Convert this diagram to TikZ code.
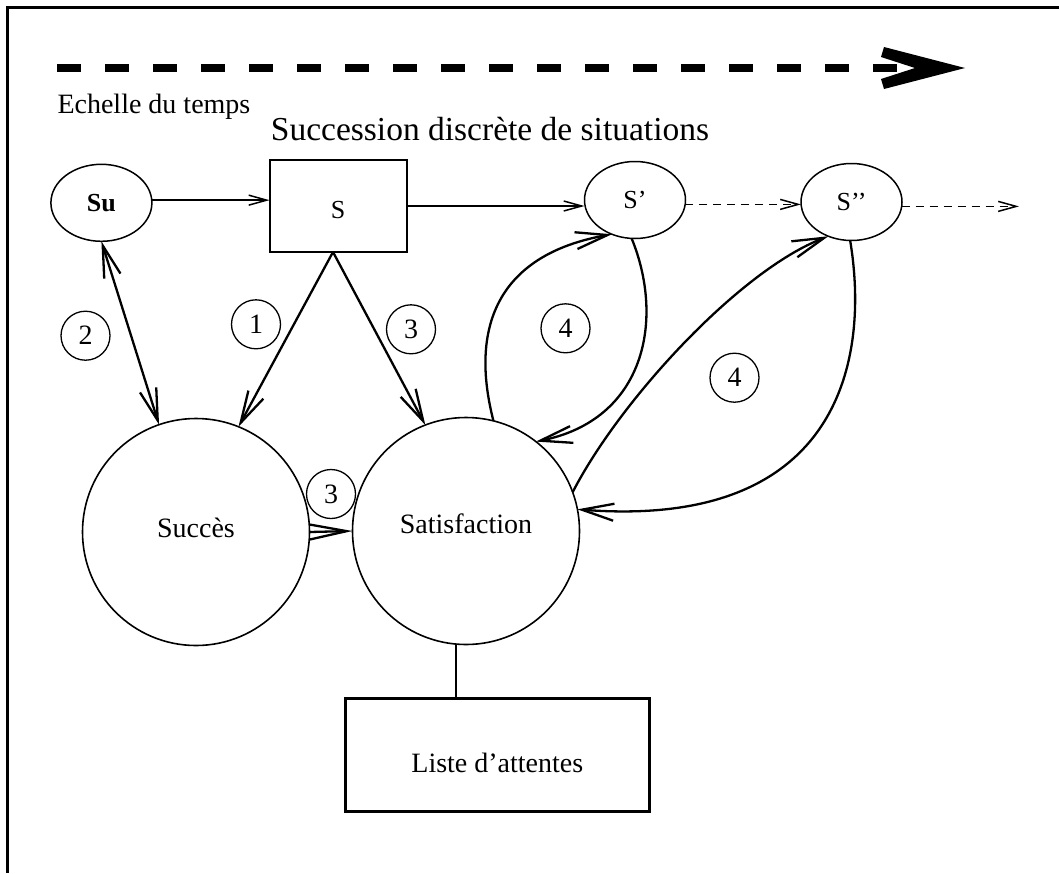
\documentclass[tikz,border=0pt]{standalone}
\usepackage{fontspec}
\setmainfont{Liberation Serif}
\usetikzlibrary{arrows.meta,shapes.geometric}

\begin{document}
\begin{tikzpicture}[x=1pt,y=-1pt,
  every node/.style={inner sep=0pt,outer sep=0pt},
  situ/.style={draw,ellipse,line width=1.5pt,minimum width=101pt,minimum height=77pt,
    font=\fontsize{26}{28}\selectfont},
  bigcircle/.style={draw,circle,line width=1.6pt,minimum size=227pt,
    font=\fontsize{28}{30}\selectfont},
  numcircle/.style={draw,circle,line width=1.3pt,minimum size=49pt,
    font=\fontsize{28}{30}\selectfont},
  thinarrow/.style={line width=1.5pt,-{Straight Barb[length=18pt,width=10pt]}},
  dasharrow/.style={thinarrow,dash pattern=on 8pt off 6pt},
  bigtip/.tip={Straight Barb[length=32pt,width=17pt]},
  bigarrow/.style={line width=2.3pt,-bigtip},
]
\useasboundingbox (0,0) rectangle (1059,873);

% frame (top and left edges)
\draw[line width=3pt] (1059,7) -- (7,7) -- (7,873);

% time axis
\coordinate (t0) at (57,68);
\coordinate (t1) at (897,68);
\coordinate (ttip) at (965,68);
\draw[line width=8pt,dash pattern=on 23.7pt off 24.3pt] (t0) -- (t1);
\fill (ttip) -- ++(-81,-21) -- ++(-3,10) -- ++(34,11) -- ++(-34,11) -- ++(3,10) -- cycle;

\node[anchor=base west,font=\fontsize{28}{30}\selectfont] (echelle) at (57.5,113.3) {Echelle du temps};
\node[anchor=base,font=\fontsize{33.5}{36}\selectfont] (succession) at (490,140.7) {Succession discrète de situations};

% situations
\node[situ,font=\fontsize{26}{28}\selectfont\bfseries] (Su) at (101.4,202.8) {Su};
\node[draw,rectangle,line width=2pt,minimum width=137pt,minimum height=92pt,
      text height=24.6pt,text depth=0pt,font=\fontsize{26}{28}\selectfont] (S) at (338,206) {S};
\node[situ] (Sp) at (635,200) {S’};
\node[situ] (Spp) at (851.5,202) {S’’};
\coordinate (tend) at (1019,205.5);

\draw[thinarrow] (Su.3) -- (Su.3 -| S.west);
\draw[thinarrow] (S.east) -- (S.east -| Sp.west);
\draw[dasharrow] (Sp.-5) -- (Sp.-5 -| Spp.west);
\draw[dasharrow] (Spp.-5) -- (Spp.-5 -| tend);

% evaluation circles
\node[bigcircle,text height=10pt,text depth=0pt] (Succes) at (196,532) {Succès};
\node[bigcircle,text height=5.4pt,text depth=0pt] (Sat) at (466,531) {Satisfaction};
\node[draw,rectangle,line width=3pt,minimum width=303.5pt,minimum height=112.6pt,
      text height=34pt,text depth=0pt,font=\fontsize{28}{30}\selectfont] (Liste) at (497.3,755) {Liste d’attentes};

% numbered steps
\node[numcircle] (c2) at (85.5,335.7) {2};
\node[numcircle] (c1) at (256,324.3) {1};
\node[numcircle] (c3a) at (411,329.3) {3};
\node[numcircle] (c3b) at (331,494) {3};
\node[numcircle] (c4a) at (565.5,328.3) {4};
\node[numcircle] (c4b) at (734.5,377.7) {4};

% connectors
\draw[line width=2.3pt,bigtip-bigtip] (Su.south) -- (Succes.109);
\draw[bigarrow] ([xshift=-5pt]S.south) -- (Succes.68);
\draw[bigarrow] ([xshift=-5pt]S.south) -- (Sat.111);
\draw[line width=2.3pt,-{Straight Barb[length=37pt,width=15pt]}] (Succes.east) -- (Sat.west);

\draw[bigarrow] (Sat.76) .. controls (470,330) and (495,255) .. (Sp.236);
\draw[bigarrow] (Sp.265) .. controls (665,320) and (645,420) .. (Sat.52);
\draw[bigarrow] (Sat.20) .. controls (620,400) and (740,270) .. (Spp.236);
\draw[bigarrow] (Spp.268) .. controls (870,360) and (840,530) .. (Sat.11);

\draw[line width=2.3pt] (Sat.265) -- (Sat.265 |- Liste.north);
\end{tikzpicture}
\end{document}
